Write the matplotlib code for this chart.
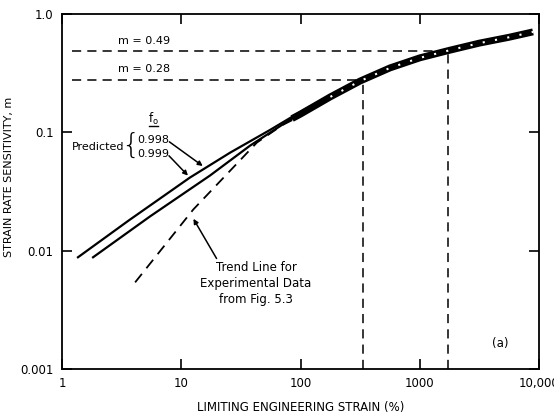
import matplotlib
matplotlib.use("Agg")
import matplotlib.pyplot as plt

# values (log-log)
pred_998_x = [1.36, 3.62, 11.8, 25.7, 55.5, 95, 120]
pred_998_y = [0.0088, 0.018, 0.0415, 0.0675, 0.105, 0.145, 0.166]
pred_999_x = [1.82, 5.47, 17.4, 37.7, 81.5, 120]
pred_999_y = [0.0088, 0.0195, 0.0432, 0.0773, 0.128, 0.155]
trend_x = [4.1, 12.6, 43, 70, 100]
trend_y = [0.0054, 0.0223, 0.082, 0.115, 0.138]
band_x = [85, 100, 178, 316, 562, 1000, 1778, 3162, 5623, 8900]
band_y = [0.131, 0.143, 0.20, 0.272, 0.351, 0.427, 0.495, 0.569, 0.638, 0.708]
m_levels = [0.28, 0.49]
m_strain = [334, 1726]
xticks = [1, 10, 100, 1000, 10000]
xlabels = ["1", "10", "100", "1000", "10,000"]
yticks = [0.001, 0.01, 0.1, 1.0]
ylabels = ["0.001", "0.01", "0.1", "1.0"]

plt.rcParams["font.family"] = "DejaVu Sans"
plt.rcParams["mathtext.fontset"] = "dejavusans"
fig = plt.figure(figsize=(5.54, 4.16), dpi=100)
ax = fig.add_axes([0.112, 0.113, 0.861, 0.853])
ax.set_xscale("log")
ax.set_yscale("log")
ax.set_xlim(1, 10000)
ax.set_ylim(0.001, 1.0)

dash = (0, (6, 4))
for m, s in zip(m_levels, m_strain):
    ax.plot([1.21, s], [m, m], color="black", lw=1.1, linestyle=dash)
    ax.plot([s, s], [0.001, m], color="black", lw=1.1, linestyle=dash)
    ax.text(2.95, m * 1.22, "m = %.2f" % m, fontsize=8, va="center")

ax.plot(pred_998_x, pred_998_y, color="black", lw=1.6)
ax.plot(pred_999_x, pred_999_y, color="black", lw=1.6)
ax.plot(trend_x, trend_y, color="black", lw=1.3, linestyle=dash)
ax.plot(band_x, band_y, color="black", lw=5, solid_capstyle="butt")
ax.plot(band_x[2:], band_y[2:], color="white", lw=1.5, linestyle=(0, (1, 5)))

# annotations
ax.text(5.8, 0.13, "f$_\\mathsf{o}$", fontsize=8.5, ha="center", va="center")
ax.plot([0.182, 0.202], [0.685, 0.685], color="black", lw=1, transform=ax.transAxes)
ax.text(1.2, 0.0758, "Predicted", fontsize=8, va="center")
ax.text(3.72, 0.0765, "{", fontsize=21, va="center", ha="center", fontweight="light")
ax.text(4.25, 0.0868, "0.998", fontsize=8, va="center")
ax.text(4.25, 0.066, "0.999", fontsize=8, va="center")
arrow = dict(arrowstyle="-|>", color="black", lw=1.1, mutation_scale=7)
ax.annotate("", xy=(15.8, 0.0504), xytext=(7.6, 0.086), arrowprops=arrow)
ax.annotate("", xy=(11.8, 0.0415), xytext=(7.6, 0.066), arrowprops=arrow)
ax.text(42.4, 0.0053, "Trend Line for\nExperimental Data\nfrom Fig. 5.3",
        fontsize=8.5, ha="center", va="center", linespacing=1.3)
ax.annotate("", xy=(12.3, 0.0195), xytext=(20.3, 0.0082), arrowprops=arrow)
ax.text(4710, 0.00163, "(a)", fontsize=8.5, ha="center", va="center")

ax.set_xticks(xticks)
ax.set_xticklabels(xlabels)
ax.set_yticks(yticks)
ax.set_yticklabels(ylabels)
ax.minorticks_off()
ax.tick_params(which="major", direction="in", length=7, width=1.2, labelsize=8.5,
               top=True, right=True, pad=6)
for sp in ax.spines.values():
    sp.set_linewidth(1.3)
ax.set_xlabel("LIMITING ENGINEERING STRAIN (%)", fontsize=8.5, labelpad=8)
ax.set_ylabel("STRAIN RATE SENSITIVITY, m", fontsize=8)
ax.yaxis.set_label_coords(-0.1, 0.54)

fig.savefig("out.png", dpi=100)
